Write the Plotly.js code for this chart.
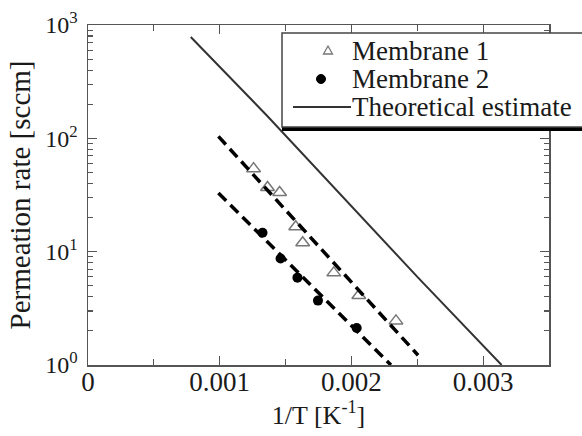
<!DOCTYPE html>
<html>
<head>
<meta charset="utf-8">
<script src="https://cdn.plot.ly/plotly-3.0.1.min.js"></script>
<style>html,body{margin:0;padding:0;background:#fff;}#chart{width:582px;height:436px;}</style>
</head>
<body>
<div id="chart"></div>
<script>
// Membrane 1 (open triangles)
const m1X = [0.001257, 0.001363, 0.001455, 0.001577, 0.001630, 0.001866, 0.002056, 0.002338];
const m1Y = [54, 36.8, 33.3, 16.6, 12.0, 6.5, 4.1, 2.45];
// Membrane 2 (filled circles)
const m2X = [0.001325, 0.001462, 0.001590, 0.001746, 0.002040];
const m2Y = [14.7, 8.7, 5.9, 3.7, 2.12];
// Fitted dashed lines
const fit1X = [0.00099, 0.002506];
const fit1Y = [104, 1.22];
const fit2X = [0.00099, 0.00230];
const fit2Y = [33, 1.0];
// Theoretical estimate
const theoX = [0.00078, 0.001356, 0.002506, 0.00314];
const theoY = [783, 160, 5.9, 1.0];
// Tick labels
const xTickVals = [0, 0.001, 0.002, 0.003];
const xTickText = ['0', '0.001', '0.002', '0.003'];
const yTickVals = [1, 10, 100, 1000];
const yTickText = ['10<sup>0</sup>', '10<sup>1</sup>', '10<sup>2</sup>', '10<sup>3</sup>'];
const legendNames = ['Membrane 1', 'Membrane 2', 'Theoretical estimate'];

// plot-area pixel geometry helpers (layout only)
const L = 88, R = 549, T = 25, B = 365;
const px = x => (x - L) / (R - L);
const py = y => (B - y) / (B - T);

const serif = 'Liberation Serif';
const txt = '#1a1a1a';

const traces = [
  {x: m1X, y: m1Y, type: 'scatter', mode: 'markers', name: legendNames[0],
   marker: {symbol: 'triangle-up-open', size: 12, color: '#777', line: {width: 1.5, color: '#777'}}},
  {x: m2X, y: m2Y, type: 'scatter', mode: 'markers', name: legendNames[1],
   marker: {symbol: 'circle', size: 10, color: '#000'}},
  {x: fit1X, y: fit1Y, type: 'scatter', mode: 'lines', showlegend: false,
   line: {color: '#000', width: 3.5, dash: '11px,6px'}},
  {x: fit2X, y: fit2Y, type: 'scatter', mode: 'lines', showlegend: false,
   line: {color: '#000', width: 3.5, dash: '11px,6px'}},
  {x: theoX, y: theoY, type: 'scatter', mode: 'lines', name: legendNames[2],
   line: {color: '#333', width: 2}}
];

const axisCommon = {
  showline: true, linecolor: '#555', linewidth: 1.5, mirror: 'allticks',
  ticks: 'inside', tickcolor: '#555', tickwidth: 1.2,
  showgrid: false, zeroline: false
};

const triPath = 'M ' + px(323.5) + ' ' + py(54) + ' L ' + px(332.5) + ' ' + py(54) +
                ' L ' + px(328) + ' ' + py(46) + ' Z';

const layout = {
  width: 582, height: 436,
  margin: {l: L, r: 582 - R, t: T, b: 436 - B, autoexpand: false},
  paper_bgcolor: '#fff', plot_bgcolor: '#fff',
  showlegend: false,
  font: {family: serif, color: txt},
  xaxis: Object.assign({}, axisCommon, {
    range: [0, 0.0035], tickmode: 'array', tickvals: xTickVals, ticktext: xTickText,
    ticklen: 9, ticklabelstandoff: -8,
    tickfont: {family: serif, size: 27, color: txt},
    minor: {dtick: 0.0005, ticks: 'inside', ticklen: 6, tickcolor: '#555', tickwidth: 1.2},
    title: {text: '1/T [K<sup>-1</sup>]', font: {family: serif, size: 26, color: txt}, standoff: 7}
  }),
  yaxis: Object.assign({}, axisCommon, {
    type: 'log', range: [0, 3], tickmode: 'array', tickvals: yTickVals, ticktext: yTickText,
    ticklen: 9, ticklabelstandoff: 4,
    tickfont: {family: serif, size: 24, color: txt},
    minor: {dtick: 'D1', ticks: 'inside', ticklen: 5, tickcolor: '#555', tickwidth: 1.2},
    title: {text: 'Permeation rate [sccm]', font: {family: serif, size: 29, color: txt}, standoff: 6}
  }),
  shapes: [
    // legend box shadow
    {type: 'line', xref: 'paper', yref: 'paper', x0: px(282), x1: px(600), y0: py(129), y1: py(129),
     line: {color: '#000', width: 4}, layer: 'above'},
    // legend box
    {type: 'rect', xref: 'paper', yref: 'paper', x0: px(282), x1: px(600), y0: py(127), y1: py(33),
     fillcolor: '#fff', line: {color: '#444', width: 1.5}, layer: 'above'},
    // legend symbols
    {type: 'path', xref: 'paper', yref: 'paper', path: triPath,
     line: {color: '#777', width: 1.3}, fillcolor: 'rgba(0,0,0,0)', layer: 'above'},
    {type: 'circle', xref: 'paper', yref: 'paper', x0: px(316.5), x1: px(325.5), y0: py(83.5), y1: py(74.5),
     line: {color: '#000', width: 1}, fillcolor: '#000', layer: 'above'},
    {type: 'line', xref: 'paper', yref: 'paper', x0: px(293), x1: px(351), y0: py(107), y1: py(107),
     line: {color: '#333', width: 2}, layer: 'above'}
  ],
  annotations: [
    {xref: 'paper', yref: 'paper', x: px(350), y: py(51), text: legendNames[0], showarrow: false,
     font: {family: serif, size: 27, color: txt}, xanchor: 'left', yanchor: 'middle'},
    {xref: 'paper', yref: 'paper', x: px(350), y: py(79), text: legendNames[1], showarrow: false,
     font: {family: serif, size: 27, color: txt}, xanchor: 'left', yanchor: 'middle'},
    {xref: 'paper', yref: 'paper', x: px(350), y: py(107), text: legendNames[2], showarrow: false,
     font: {family: serif, size: 27, color: txt}, xanchor: 'left', yanchor: 'middle'}
  ]
};

Plotly.newPlot('chart', traces, layout, {staticPlot: true, displayModeBar: false});
</script>
</body>
</html>
